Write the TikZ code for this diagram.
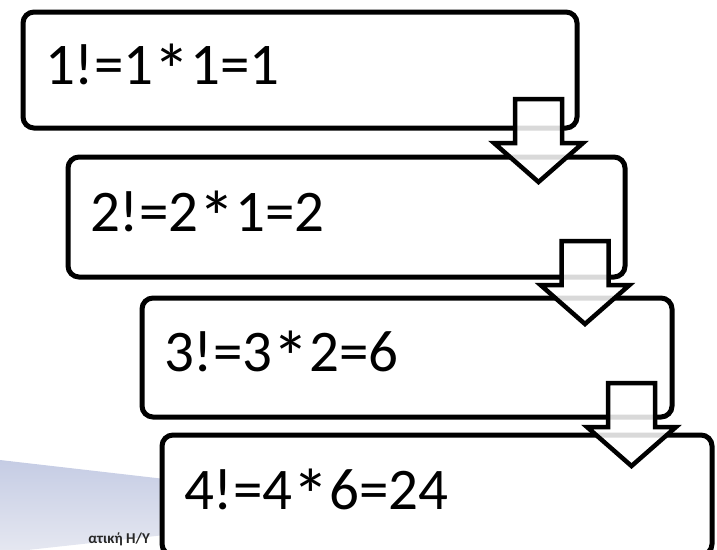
\documentclass[tikz,border=0pt]{standalone}
\usepackage{fontspec}
\setmainfont{Carlito}
\usetikzlibrary{positioning}

\definecolor{swoopTop}{RGB}{197,204,228}
\definecolor{swoopBot}{RGB}{230,232,241}

\newcommand\timesop{\raisebox{-0.2em}{\fontsize{74}{76}\selectfont *}}

\tikzset{
  stepbox/.style={draw=black, fill=white, line width=5pt, rounded corners=11pt,
    anchor=north west, outer sep=0pt, inner xsep=22pt, align=left,
    font=\fontsize{59}{62}\selectfont},
  downarrow/.style={draw=black, line width=4.5pt, fill=white, fill opacity=0.85,
    line join=miter},
}

\begin{document}
\begin{tikzpicture}[x=1pt,y=-1pt]
 \useasboundingbox (0,0) rectangle (717,549);
 \clip (0,0) rectangle (717,549);
 % background swoosh and footer
 \shade[top color=swoopTop, bottom color=swoopBot] (0,460) -- (165,479) -- (165,535) -- (0,553) -- cycle;
 \node[anchor=base east, inner sep=0pt, font=\bfseries\fontsize{15}{16}\selectfont, text=black!85] (footer) at (150,543) {ατική Η/Υ};
 % the four steps
 \node[stepbox, minimum width=554pt, minimum height=116pt, text width=510pt] (fact1) at (23,12) {1!=1\timesop1=1};
 \node[stepbox, minimum width=557pt, minimum height=120pt, text width=513pt] (fact2) at (68,157) {2!=2\timesop1=2};
 \node[stepbox, minimum width=530pt, minimum height=119pt, text width=486pt] (fact3) at (142,298) {3!=3\timesop2=6};
 \node[stepbox, minimum width=550pt, minimum height=120pt, text width=506pt] (fact4) at (162,435) {4!=4\timesop6=24};
 % arrows between steps
 \foreach \cx/\by in {538.5/143, 585/285, 631.5/427} {
  \draw[downarrow] (\cx-23.5,\by-44) -- (\cx+23.5,\by-44) -- (\cx+23.5,\by) -- (\cx+44.5,\by)
    -- (\cx,\by+39) -- (\cx-44.5,\by) -- (\cx-23.5,\by) -- cycle;
 }
\end{tikzpicture}
\end{document}
